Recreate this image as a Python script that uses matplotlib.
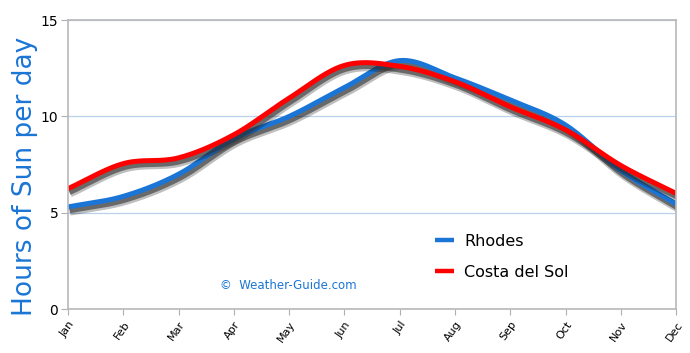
import numpy as np
import matplotlib
matplotlib.use("Agg")
import matplotlib.pyplot as plt
import matplotlib.patheffects as pe

months = ['Jan', 'Feb', 'Mar', 'Apr', 'May', 'Jun', 'Jul', 'Aug', 'Sep', 'Oct', 'Nov', 'Dec']
rhodes = [5.3, 5.85, 7.0, 8.85, 10.0, 11.5, 12.9, 12.0, 10.85, 9.55, 7.2, 5.45]
costa = [6.25, 7.55, 7.85, 9.05, 10.95, 12.65, 12.6, 11.8, 10.5, 9.3, 7.45, 6.0]


def smooth(y, n=30):
    # Catmull-Rom curve through the monthly points
    y = np.asarray(y, dtype=float)
    p = np.concatenate([[2 * y[0] - y[1]], y, [2 * y[-1] - y[-2]]])
    xs, ys = [], []
    t = np.linspace(0, 1, n, endpoint=False)
    for i in range(len(y) - 1):
        p0, p1, p2, p3 = p[i], p[i + 1], p[i + 2], p[i + 3]
        seg = 0.5 * ((2 * p1) + (-p0 + p2) * t + (2 * p0 - 5 * p1 + 4 * p2 - p3) * t ** 2
                     + (-p0 + 3 * p1 - 3 * p2 + p3) * t ** 3)
        xs.append(i + t)
        ys.append(seg)
    xs.append([len(y) - 1])
    ys.append([y[-1]])
    return np.concatenate(xs), np.concatenate(ys)


fig = plt.figure(figsize=(6.9, 3.53), dpi=100)
ax = fig.add_axes([0.0986, 0.1246, 0.8814, 0.8184])

shadow = [pe.Stroke(offset=(1.5, -3.5), linewidth=5.5, foreground='black', alpha=0.25),
          pe.Stroke(offset=(1, -2.5), linewidth=4.2, foreground='#303030', alpha=0.6),
          pe.Normal()]

x, y = smooth(rhodes)
ax.plot(x, y, color='#1a75d6', lw=3.6, label='Rhodes', path_effects=shadow,
        solid_capstyle='butt')
x, y = smooth(costa)
ax.plot(x, y, color='#ff0000', lw=3.6, label='Costa del Sol', path_effects=shadow,
        solid_capstyle='butt')

ax.set_xlim(0, 11)
ax.set_ylim(0, 15)
ax.set_xticks(range(12))
ax.set_xticklabels(months, rotation=55, fontsize=8, ha='right', va='top',
                   rotation_mode='anchor')
ax.set_yticks([0, 5, 10, 15])
ax.tick_params(axis='y', labelsize=10, length=5, color='#b0b0b0', pad=2)
ax.tick_params(axis='x', length=4, color='#b0b0b0')
for s in ax.spines.values():
    s.set_color('#b8b8b8')
    s.set_linewidth(1.2)
ax.yaxis.grid(True, color='#b9d1ea', lw=0.9)
ax.set_axisbelow(True)

ax.set_ylabel('Hours of Sun per day', color='#1a75d6', fontsize=19)
ax.yaxis.set_label_coords(-0.05, 0.46)

leg = ax.legend(loc='upper left', bbox_to_anchor=(0.58, 0.31), frameon=False,
                fontsize=11.5, handlelength=1.2, handletextpad=0.6, labelspacing=1.0)
for line in leg.get_lines():
    line.set_path_effects([])
    line.set_linewidth(3.2)

ax.text(0.25, 0.08, '\u00a9  Weather-Guide.com', transform=ax.transAxes,
        color='#1a75d6', fontsize=8.5, ha='left', va='center')

fig.savefig('out.png', dpi=100)
